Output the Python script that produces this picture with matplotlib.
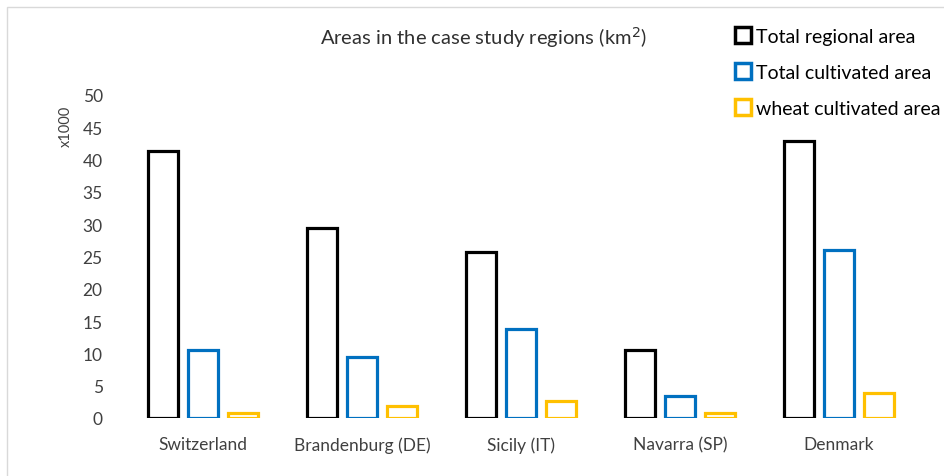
import matplotlib.pyplot as plt
import numpy as np
from matplotlib.patches import Rectangle
from matplotlib.lines import Line2D

plt.rcParams['font.family'] = ['Lato', 'DejaVu Sans']

regions = ['Switzerland', 'Brandenburg (DE)', 'Sicily (IT)', 'Navarra (SP)', 'Denmark']
total_regional = [41.3, 29.4, 25.7, 10.5, 42.9]
total_cultivated = [10.5, 9.4, 13.8, 3.4, 26.0]
wheat_cultivated = [0.8, 1.9, 2.6, 0.8, 3.9]
series_names = ['Total regional area', 'Total cultivated area', 'wheat cultivated area']
colors = ['#000000', '#0070C0', '#FFC000']
text_col = '#404040'

fig = plt.figure(figsize=(9.44, 4.77), dpi=100)
ax = fig.add_axes([123.5 / 944, 58 / 477, 795 / 944, 323 / 477])

x = np.arange(len(regions))
width = 0.19
offset = 0.25
for i, (vals, col) in enumerate(zip([total_regional, total_cultivated, wheat_cultivated], colors)):
    ax.bar(x + (i - 1) * offset, vals, width, facecolor='white', edgecolor=col, linewidth=2.3)

ax.set_xlim(-0.5, len(regions) - 0.5)
ax.set_ylim(0, 50)
ax.set_yticks(range(0, 51, 5))
ax.set_xticks(x)
ax.set_xticklabels(regions, fontsize=12.8)
for s in ax.spines.values():
    s.set_visible(False)
ax.tick_params(length=0, labelsize=12.5, colors=text_col)
ax.tick_params(axis='x', pad=13)
ax.tick_params(axis='y', pad=15)
ax.set_ylabel('x1000', fontsize=10.5, color=text_col)
ax.yaxis.set_label_coords(-0.064, 0.905)

fig.text(483 / 944, 1 - 38 / 477, 'Areas in the case study regions (km$^2$)', ha='center', va='center',
         fontsize=14.5, color='#303030')

handles = [Line2D([0], [0], marker='s', linestyle='none', markersize=11, markerfacecolor='white',
                  markeredgecolor=c, markeredgewidth=2.5) for c in colors]
fig.legend(handles, series_names, loc='upper left', bbox_to_anchor=(725 / 944, 1 - 21 / 477),
           frameon=False, fontsize=14, handletextpad=0.2, labelspacing=0.98, borderaxespad=0,
           labelcolor='#000000', handlelength=1.0)

fig.add_artist(Rectangle((7 / 944, -0.1), 1.2, 1 - 8 / 477 + 0.1, transform=fig.transFigure,
                         facecolor='none', edgecolor='#d9d9d9', linewidth=1))

fig.savefig('out.png', dpi=100)
